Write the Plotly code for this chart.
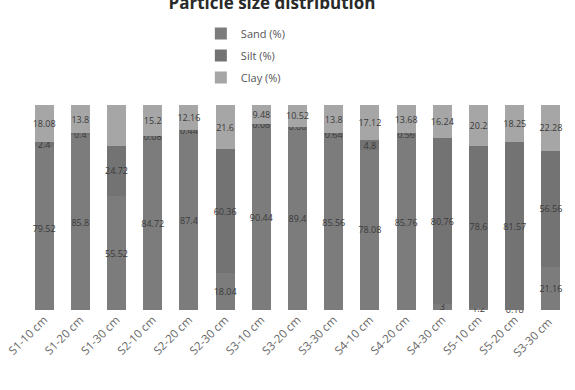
import plotly.graph_objects as go

categories = ["S1-10 cm", "S1-20 cm", "S1-30 cm", "S2-10 cm", "S2-20 cm", "S2-30 cm",
              "S3-10 cm", "S3-20 cm", "S3-30 cm", "S4-10 cm", "S4-20 cm", "S4-30 cm",
              "S5-10 cm", "S5-20 cm", "S3-30 cm "]
sand = [79.52, 85.8, 55.52, 84.72, 87.4, 18.04, 90.44, 89.4, 85.56, 78.08, 85.76, 3, 1.2, 0.18, 21.16]
silt = [2.4, 0.4, 24.72, 0.08, 0.44, 60.36, 0.08, 0.08, 0.64, 4.8, 0.56, 80.76, 78.6, 81.57, 56.56]
clay = [18.08, 13.8, 19.76, 15.2, 12.16, 21.6, 9.48, 10.52, 13.8, 17.12, 13.68, 16.24, 20.2, 18.25, 22.28]

series = [("Sand (%)", sand, "#7c7c7c"), ("Silt (%)", silt, "#737373"), ("Clay (%)", clay, "#a6a6a6")]

fig = go.Figure()
for i, (name, vals, col) in enumerate(series):
    fig.add_trace(go.Bar(
        x=categories, y=vals, name=name, marker=dict(color=col, line=dict(width=0)),
        text=[str(v) for v in vals], textposition="inside", insidetextanchor="middle",
        constraintext="none", textangle=0, cliponaxis=False,
        textfont=dict(size=9, color="#3a3a3a", family="Open Sans"),
        legendgroup=f"g{i}",
    ))

fig.update_layout(
    barmode="stack", bargap=0.47,
    width=575, height=390,
    margin=dict(l=26, r=6, t=105, b=80),
    paper_bgcolor="white", plot_bgcolor="white",
    font=dict(family="Open Sans", color="#555"),
    title=dict(text="<b>Particle size distribution</b>", x=0.473, xanchor="center",
               y=0.993, yref="container", yanchor="middle",
               font=dict(size=17, color="#2a2a2a")),
    legend=dict(x=0.322, xanchor="left", y=1.42, yanchor="top",
                font=dict(size=11, color="#555"), tracegroupgap=3,
                traceorder="grouped", bgcolor="rgba(0,0,0,0)"),
    showlegend=True,
    xaxis=dict(tickangle=-45, tickfont=dict(size=11.5, color="#666"), showline=False,
               showgrid=False, ticks=""),
    yaxis=dict(range=[0, 100], visible=False, showgrid=False),
)

fig.write_html("out.html")
